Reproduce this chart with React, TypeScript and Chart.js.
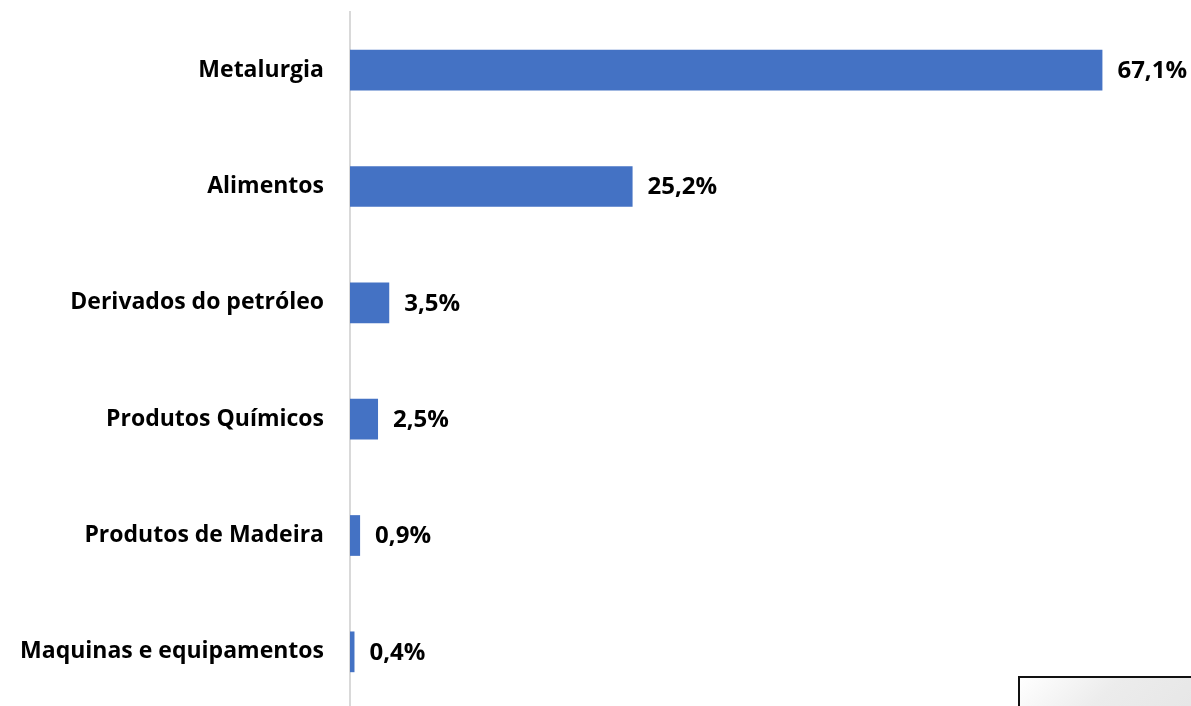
import React, { useEffect, useRef } from "react";
import { Chart, registerables } from "chart.js";

Chart.register(...registerables);

const categories = [
  "Metalurgia",
  "Alimentos",
  "Derivados do petróleo",
  "Produtos Químicos",
  "Produtos de Madeira",
  "Maquinas e equipamentos",
];
const values = [67.1, 25.2, 3.5, 2.5, 0.9, 0.4];
const valueLabels = ["67,1%", "25,2%", "3,5%", "2,5%", "0,9%", "0,4%"];

const FONT = "'Open Sans', sans-serif";

const labelPlugin = {
  id: "barValueLabels",
  afterDatasetsDraw(chart: any) {
    const ctx = chart.ctx;
    const meta = chart.getDatasetMeta(0);
    ctx.save();
    ctx.font = `bold 24px ${FONT}`;
    ctx.fillStyle = "#000000";
    ctx.textAlign = "left";
    ctx.textBaseline = "middle";
    meta.data.forEach((el: any, i: number) => {
      ctx.fillText(valueLabels[i], el.x + 15, el.y + 1);
    });
    ctx.restore();
  },
};

export default function App() {
  const ref = useRef<HTMLCanvasElement | null>(null);

  useEffect(() => {
    document.body.style.margin = "0";
    if (!ref.current) return;
    const chart = new Chart(ref.current, {
      type: "bar",
      data: {
        labels: categories,
        datasets: [
          {
            data: values,
            backgroundColor: "#4472C4",
            borderWidth: 0,
            categoryPercentage: 1,
            barPercentage: 0.35,
          },
        ],
      },
      options: {
        indexAxis: "y",
        animation: false,
        responsive: false,
        maintainAspectRatio: false,
        devicePixelRatio: 1,
        layout: { padding: { top: 12, bottom: 0, left: 0, right: 0 } },
        plugins: {
          legend: { display: false },
          tooltip: { enabled: false },
        },
        scales: {
          x: { display: false, min: 0, max: 75 },
          y: {
            grid: { display: false, drawTicks: false },
            border: { display: true, color: "#d9d9d9", width: 2 },
            ticks: {
              color: "#000000",
              font: { family: FONT, size: 23, weight: "bold" },
              padding: 26,
            },
            afterFit: (scale: any) => {
              scale.width = 350;
              scale.paddingTop = 0;
              scale.paddingBottom = 0;
            },
          },
        },
      },
      plugins: [labelPlugin],
    });
    return () => chart.destroy();
  }, []);

  return (
    <div
      style={{
        position: "fixed",
        left: 0,
        top: 0,
        width: 1191,
        height: 706,
        overflow: "hidden",
        background: "#ffffff",
      }}
    >
      <canvas ref={ref} width={1191} height={710} style={{ display: "block", width: 1191, height: 710 }} />
      <div
        style={{
          position: "absolute",
          left: 1018,
          top: 676,
          width: 200,
          height: 60,
          border: "2px solid #111",
          background: "linear-gradient(135deg, #ffffff 0%, #ececec 40%, #e4e4e4 100%)",
          boxSizing: "border-box",
        }}
      />
    </div>
  );
}
